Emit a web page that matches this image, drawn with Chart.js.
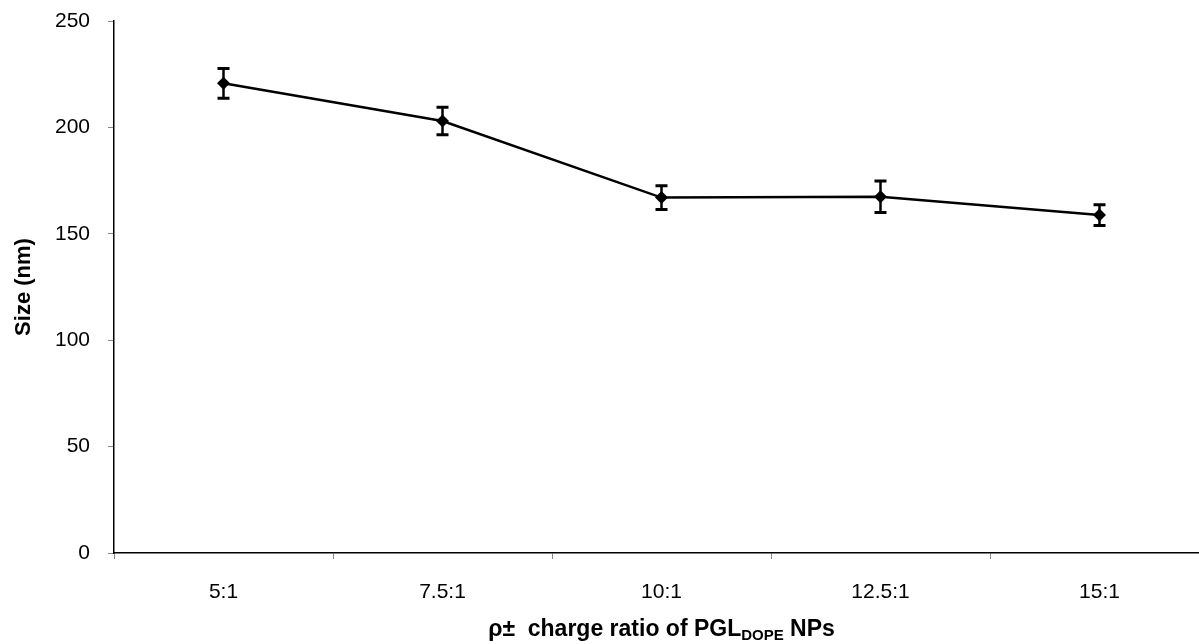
<!DOCTYPE html>
<html>
<head>
<meta charset="utf-8">
<script src="https://cdn.jsdelivr.net/npm/chart.js@4"></script>
<style>
  body { margin: 0; overflow: hidden; background: #fff; }
  canvas { display: block; }
</style>
</head>
<body>
<canvas id="myChart" width="1230" height="644"></canvas>
<script>
let labels = ["5:1", "7.5:1", "10:1", "12.5:1", "15:1"];
let sizes = [220.7, 203, 167, 167.4, 158.8];
let errors = [7, 6.5, 5.6, 7.4, 4.9];
let yTicks = [0, 50, 100, 150, 200, 250];

const fontFamily = "'Liberation Sans', Arial, sans-serif";

// error bars, drawn under the markers
const errorBars = {
  id: "errorBars",
  beforeDatasetsDraw(chart) {
    const ctx = chart.ctx;
    const y = chart.scales.y;
    const meta = chart.getDatasetMeta(0);
    ctx.save();
    ctx.strokeStyle = "#000";
    ctx.lineWidth = 2.5;
    meta.data.forEach((pt, i) => {
      const top = y.getPixelForValue(sizes[i] + errors[i]);
      const bottom = y.getPixelForValue(sizes[i] - errors[i]);
      ctx.beginPath();
      ctx.moveTo(pt.x, top);
      ctx.lineTo(pt.x, bottom);
      ctx.stroke();
      ctx.lineWidth = 3;
      ctx.beginPath();
      ctx.moveTo(pt.x - 6, top);
      ctx.lineTo(pt.x + 6, top);
      ctx.moveTo(pt.x - 6, bottom);
      ctx.lineTo(pt.x + 6, bottom);
      ctx.stroke();
      ctx.lineWidth = 2.5;
    });
    ctx.restore();
  },
};

// x axis title with the DOPE subscript
const xTitle = {
  id: "xTitle",
  afterDraw(chart) {
    const ctx = chart.ctx;
    const area = chart.chartArea;
    const main = "bold 23px " + fontFamily;
    const sub = "bold 15px " + fontFamily;
    const part1 = "ρ±  charge ratio of PGL";
    const part2 = "DOPE";
    const part3 = " NPs";
    ctx.save();
    ctx.fillStyle = "#000";
    ctx.textBaseline = "alphabetic";
    ctx.font = main;
    const w1 = ctx.measureText(part1).width;
    const w3 = ctx.measureText(part3).width;
    ctx.font = sub;
    const w2 = ctx.measureText(part2).width;
    let x = (area.left + area.right) / 2 - (w1 + w2 + w3) / 2;
    const base = 636;
    ctx.textAlign = "left";
    ctx.font = main;
    ctx.fillText(part1, x, base);
    x += w1;
    ctx.font = sub;
    ctx.fillText(part2, x, base + 4);
    x += w2;
    ctx.font = main;
    ctx.fillText(part3, x, base);
    ctx.restore();
  },
};

var ctx = document.getElementById("myChart");
var lineChart = new Chart(ctx, {
  type: "line",
  data: {
    labels: labels,
    datasets: [
      {
        label: "Size",
        data: sizes,
        borderColor: "#000",
        backgroundColor: "#000",
        borderWidth: 2.5,
        pointStyle: "rectRot",
        pointRadius: 6.5,
        pointBorderWidth: 0,
        tension: 0,
      },
    ],
  },
  options: {
    responsive: false,
    animation: false,
    layout: {
      padding: { top: 21, right: 21, left: 0, bottom: 0 },
    },
    plugins: {
      legend: { display: false },
      tooltip: { enabled: false },
    },
    scales: {
      x: {
        offset: true,
        grid: {
          offset: true,
          drawOnChartArea: false,
          tickLength: 6,
          tickColor: "#888",
        },
        border: { color: "#000", width: 1.5 },
        ticks: {
          color: "#000",
          maxRotation: 0,
          padding: 21,
          font: { family: fontFamily, size: 21 },
        },
        afterFit(scale) {
          scale.height = 91;
          scale.paddingLeft = 0;
          scale.paddingRight = 0;
        },
      },
      y: {
        min: 0,
        max: 250,
        afterBuildTicks(scale) {
          scale.ticks = yTicks.map((v) => ({ value: v }));
        },
        grid: {
          drawOnChartArea: false,
          tickLength: 6,
          tickColor: "#888",
        },
        border: { color: "#000", width: 1.5 },
        ticks: {
          color: "#000",
          padding: 18,
          font: { family: fontFamily, size: 21 },
        },
        title: {
          display: true,
          text: "Size (nm)",
          color: "#000",
          padding: { top: 11, bottom: 0 },
          font: { family: fontFamily, size: 22, weight: "bold" },
        },
        afterFit(scale) {
          scale.width = 114;
          scale.paddingTop = 0;
          scale.paddingBottom = 0;
        },
      },
    },
  },
  plugins: [errorBars, xTitle],
});
</script>
</body>
</html>
